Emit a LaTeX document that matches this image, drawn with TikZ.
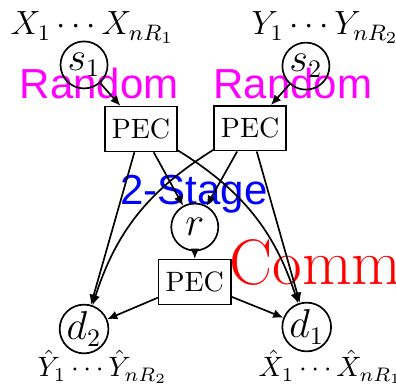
\documentclass[tikz,border=0pt]{standalone}
\usepackage{fontspec}
\setsansfont{Liberation Sans}
\usetikzlibrary{arrows.meta,positioning}
\definecolor{tagpink}{RGB}{255,0,255}
\definecolor{tagblue}{RGB}{0,0,255}
\definecolor{tagred}{RGB}{255,0,0}
\tikzset{
  party/.style={draw,circle,semithick,minimum size=16.8pt,inner sep=0pt,font=\fontsize{13.5}{16}\selectfont},
  pec/.style={draw,rectangle,semithick,minimum height=16pt,inner xsep=2.5pt},
  link/.style={-{Latex[length=3.6pt,width=3.2pt]},semithick},
  tag/.style={font=\sffamily\fontsize{15}{18}\selectfont,inner sep=0pt,anchor=base west},
  seq/.style={inner sep=0pt,anchor=base west}
}
\begin{document}
\begin{tikzpicture}
        \useasboundingbox (0,0) rectangle (4.971,4.820);
        % coloured tags
        \node[tag,tagpink] (rnd1) at (0.24,3.578) {Random};
        \node[tag,tagpink] (rnd2) at (2.674,3.578) {Random};
        \node[tag,tagblue] (stage) at (1.506,2.247) {2-Stage};
        \node[seq,tagred,font=\fontsize{23}{27}\selectfont] (comm) at (2.875,1.243) {Comm};
        % sequences
        \node[seq,font=\large] (xsrc) at (0.126,4.381) {$X_1\cdots X_{nR_1}$};
        \node[seq,font=\large] (ysrc) at (3.151,4.381) {$Y_1\cdots Y_{nR_2}$};
        \node[seq] (yhat) at (0.464,0.088) {$\hat{Y}_1\cdots\hat{Y}_{nR_2}$};
        \node[seq] (xhat) at (3.239,0.088) {$\hat{X}_1\cdots\hat{X}_{nR_1}$};
        % parties
        \node[party] (s1) at (1.055,4.005) {$s_1$};
        \node[party] (s2) at (3.84,3.99) {$s_2$};
        \node[party] (r) at (2.445,1.97) {$r$};
        \node[party] (d2) at (1.055,0.69) {$d_2$};
        \node[party] (d1) at (3.85,0.715) {$d_1$};
        % codes
        \node[pec] (pec1) at (1.77,3.20) {PEC};
        \node[pec] (pec2) at (3.14,3.21) {PEC};
        \node[pec] (pec3) at (2.445,1.28) {PEC};
        % links
        \draw[link] (s1) -- (pec1);
        \draw[link] (s2) -- (pec2);
        \draw[link] (pec1) -- (r);
        \draw[link] (pec2) -- (r);
        \draw[link] (pec1) -- (d2);
        \draw[link] (pec2) -- (d1);
        \draw[link] (pec1) to[bend left=20] (d1);
        \draw[link] (pec2) to[bend right=20] (d2);
        \draw[link] (r) -- (pec3);
        \draw[link] (pec3) -- (d2);
        \draw[link] (pec3) -- (d1);
      \end{tikzpicture}
\end{document}
